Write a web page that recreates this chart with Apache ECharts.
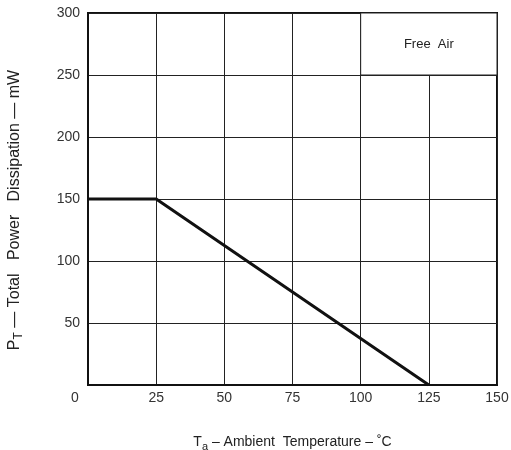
<!DOCTYPE html>
<html>
<head>
<meta charset="utf-8">
<script src="https://cdn.jsdelivr.net/npm/echarts@6/dist/echarts.min.js"></script>
<style>html,body{margin:0;padding:0;background:#fff}#c{width:511px;height:450px}</style>
</head>
<body>
<div id="c"></div>
<script>
const temps = [0, 25, 125];
const power = [150, 150, 0];
const xTicks = [0, 25, 50, 75, 100, 125, 150];
const yTicks = [0, 50, 100, 150, 200, 250, 300];
const noteText = 'Free  Air';
const noteBox = [[100, 300], [150, 250]];

const chart = echarts.init(document.getElementById('c'));
const font = '"Liberation Sans", Arial, sans-serif';
chart.setOption({
  animation: false,
  backgroundColor: '#fff',
  grid: { left: 88, right: 14, top: 13, bottom: 65, show: true, borderColor: '#111', borderWidth: 2, backgroundColor: 'transparent', containLabel: false, outerBoundsMode: 'none' },
  xAxis: {
    type: 'value', min: xTicks[0], max: xTicks[xTicks.length - 1], interval: 25,
    axisLine: { show: true, lineStyle: { color: '#111', width: 2 } },
    axisTick: { show: false },
    splitLine: { show: true, lineStyle: { color: '#222', width: 1 } },
    axisLabel: {
      color: '#333', fontFamily: font, fontSize: 14, margin: 6,
      formatter: v => v === 0 ? '{z|0}' : String(v),
      rich: { z: { padding: [0, 26, 0, 0], color: '#333', fontFamily: font, fontSize: 14 } }
    },
    name: '{n|T}{s|a}{n| \u2013 Ambient  Temperature \u2013 \u02daC}',
    nameLocation: 'middle', nameGap: 48,
    nameTextStyle: {
      rich: {
        n: { fontFamily: font, fontSize: 14, color: '#222' },
        s: { fontFamily: font, fontSize: 11, color: '#222', verticalAlign: 'bottom', padding: [8, 0, 0, 0] }
      }
    }
  },
  yAxis: {
    type: 'value', min: yTicks[0], max: yTicks[yTicks.length - 1], interval: 50,
    axisLine: { show: true, lineStyle: { color: '#111', width: 2 } },
    axisTick: { show: false },
    splitLine: { show: true, lineStyle: { color: '#222', width: 1 } },
    axisLabel: { color: '#333', fontFamily: font, fontSize: 14, margin: 8, showMinLabel: false },
    name: '{n|P}{s|T}{n| \u2014 Total   Power   Dissipation \u2014 mW}',
    nameLocation: 'middle', nameGap: 63,
    nameTextStyle: {
      padding: [0, 22, 0, 0],
      rich: {
        n: { fontFamily: font, fontSize: 16, color: '#222' },
        s: { fontFamily: font, fontSize: 12, color: '#222', padding: [9, 0, 0, 0] }
      }
    }
  },
  series: [{
    type: 'line',
    data: temps.map((t, i) => [t, power[i]]),
    symbol: 'none',
    lineStyle: { color: '#111', width: 3 },
    z: 5,
    markArea: {
      silent: true,
      itemStyle: { color: '#fff', borderColor: '#222', borderWidth: 1 },
      label: { show: true, position: 'inside', formatter: noteText, fontFamily: font, fontSize: 13, color: '#222' },
      data: [[{ coord: noteBox[0] }, { coord: noteBox[1] }]]
    }
  }]
});
</script>
</body>
</html>
